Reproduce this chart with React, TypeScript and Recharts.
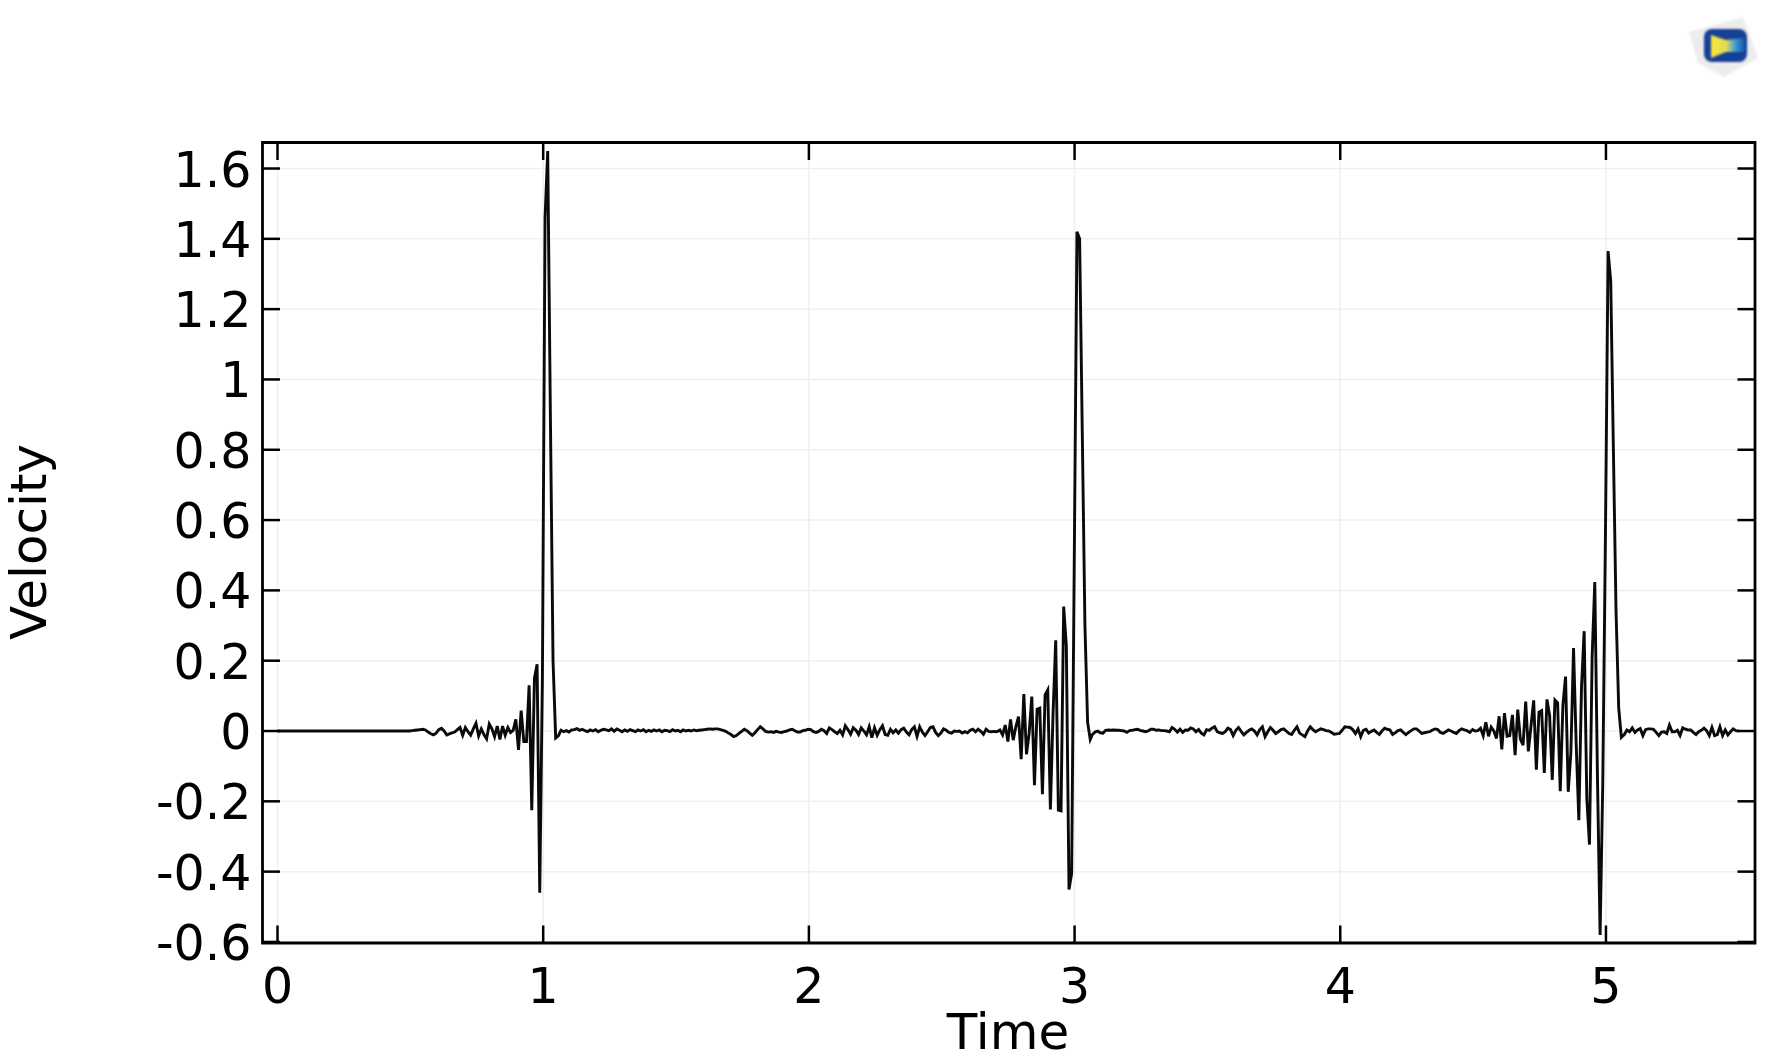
import { LineChart, Line, XAxis, YAxis, CartesianGrid, ReferenceArea, Label } from 'recharts';

// plot frame, in page pixels
const PLOT_LEFT = 262.5;
const PLOT_RIGHT = 1755;
const PLOT_TOP = 142.5;
const PLOT_BOTTOM = 943;
const TICK_LEN = 17.5;
const FONT = '"DejaVu Sans", sans-serif';

const xDomain = [-0.0565, 5.561];
const yDomain = [-0.603, 1.674];
const xTicks = [0, 1, 2, 3, 4, 5];
const yTicks = [-0.6, -0.4, -0.2, 0, 0.2, 0.4, 0.6, 0.8, 1, 1.2, 1.4, 1.6];

// samples are 0.01 apart, each list says where it starts
const STEP = 0.01;

const quietTimes = [0, 0.25, 0.487];
const quietValues = [0, 0, 0];

const firstPulseStart = 0.497;
const firstPulse = [
  0, 0.001, 0.002, 0.003, 0.004, 0.005, 0.003, -0.003, -0.008, -0.011,
  -0.006, 0.004, 0.008, 0, -0.011, -0.008, -0.005, -0.003, 0.004, 0.01,
  -0.012, 0.01, -0.002, -0.012, 0.006, 0.022, -0.014, 0.006, -0.01, -0.022,
  0.02, 0.006, -0.016, 0.014, -0.024, 0.014, -0.012, 0.01, -0.004, 0.002,
  0.033, -0.054, 0.058, -0.03, -0.03, 0.13, -0.225, 0.15, 0.19, -0.46,
  0.15, 1.46, 1.65, 0.9, 0.2, -0.02,
];

const firstQuietStart = 1.057;
const firstQuiet = [
  -0.014, 0.002, -0.002, 0.001, -0.003, 0.003, 0.004, 0.007, 0.002, 0.005,
  0.001, -0.002, 0.003, 0, 0.004, -0.002, 0.002, 0.005, 0.003, 0.001,
  0.006, -0.001, 0.006, 0.002, -0.002, 0.003, -0.001, 0.004, 0.001, -0.002,
  0.003, 0, 0.004, -0.002, 0.002, -0.001, 0.003, 0, 0.003, -0.002,
  0.002, 0.001, -0.002, 0.004, 0, 0.002, -0.002, 0.003, 0, 0.002,
  0, 0.003, 0.001, 0.002, 0.003, 0.004, 0.005, 0.006, 0.005, 0.006,
  0.006, 0.004, 0.002, -0.001, -0.006, -0.01, -0.016, -0.013, -0.007, -0.001,
  0.005, 0.001, -0.006, -0.012, -0.005, 0.004, 0.012, 0.006, -0.001, -0.003,
  -0.002, -0.004, -0.001, -0.003, -0.004, -0.002, 0, 0.003, 0.005, 0.001,
  -0.003, -0.003, 0.001, 0.002, 0.005, 0.004, -0.002, -0.004, -0.001, 0.005,
  0.001, -0.007, 0.009, 0.004, -0.002, -0.007, 0.002, -0.011, 0.015, 0.004,
  -0.009, 0.009, 0.002, -0.01, 0.009, 0, -0.011, 0.012, -0.019, 0.009,
  -0.012, 0.004, 0.015, -0.01, -0.012, 0.005, -0.005, 0.003, -0.006, 0.004,
  0.008, -0.003, -0.011, 0.004, 0.012, -0.015, 0.012, -0.003, -0.013, -0.002,
  0.01, 0.012, -0.004, -0.013, -0.006, 0.006, 0.002, -0.004, -0.006, 0,
  -0.001, 0, -0.006, -0.002, -0.005, 0.002, 0.005, -0.002, 0.005, -0.001,
  -0.009, 0.005, -0.001, -0.002, -0.001, -0.002,
];

const secondPulseStart = 2.719;
const secondPulse = [
  0.003, -0.011, 0.017, -0.03, 0.033, -0.026, 0.012, 0.041, -0.08, 0.105,
  -0.066, -0.007, 0.098, -0.154, 0.062, 0.065, -0.18, 0.103, 0.117, -0.223,
  0.05, 0.258, -0.225, -0.227, 0.354, 0.242, -0.451, -0.405, 0.5, 1.42,
  1.4, 0.85, 0.3, 0.025, -0.024,
];

const secondQuietStart = 3.067;
const secondQuiet = [
  -0.01, -0.003, 0, -0.005, -0.006, 0.002, 0.003, 0.002, 0.003, 0.002,
  0.002, 0.001, 0, -0.004, 0.001, 0.002, 0.004, 0.005, 0.002, 0,
  -0.002, 0, 0.005, 0.005, 0.002, 0.003, 0.001, 0.001, 0, -0.002,
  0.01, 0.005, -0.003, 0.005, -0.004, 0.003, 0.002, 0.009, 0.006, -0.002,
  0.004, -0.006, -0.011, 0.004, 0.002, 0.008, 0.012, -0.002, -0.005, -0.007,
  -0.002, 0.008, 0.004, -0.013, 0.002, 0.01, -0.001, -0.011, -0.004, 0.002,
  0.006, 0, -0.011, 0.004, 0.012, -0.016, -0.002, 0.01, 0.002, -0.007,
  -0.002, 0.004, 0.006, 0, -0.007, -0.01, 0.002, 0.012, -0.006, -0.011,
  -0.016, 0, 0.012, 0.004, -0.002, 0.002, 0.006, 0.004, 0.001, 0,
  -0.004, -0.009, -0.008, -0.007, 0.002, 0.012, 0.011, 0.01, 0.004, -0.007,
  0.006, -0.016, 0.002, 0.005, -0.006, -0.001, 0.003, -0.004, -0.01, 0,
  0.008, 0.005, 0.003, -0.01, -0.005, 0.001, 0.003, -0.004, -0.01, -0.004,
  0.001, 0.006, 0.006, 0, -0.007, -0.005, -0.003, -0.002, 0.003, 0.006,
  0.004, -0.004, -0.007, -0.002, 0.003, 0, -0.004, -0.007, 0.001, 0.006,
  0.003, 0.001,
];

const thirdPulseStart = 4.488;
const thirdPulse = [
  -0.004, 0.004, 0, 0.001, 0.008, -0.013, 0.025, -0.015, 0.011, 0,
  -0.021, 0.042, -0.052, 0.051, -0.015, -0.013, 0.046, -0.069, 0.061, -0.023,
  -0.04, 0.084, -0.058, 0.015, 0.087, -0.11, 0.054, 0.058, -0.119, 0.09,
  0.044, -0.139, 0.088, 0.08, -0.171, 0.073, 0.155, -0.173, -0.062, 0.236,
  -0.038, -0.254, 0.126, 0.284, -0.192, -0.323, 0.212, 0.424, -0.129, -0.58,
  -0.15, 0.55, 1.365, 1.28, 0.8, 0.34, 0.066, -0.018,
];

const lastQuietStart = 5.069;
const lastQuiet = [
  -0.01, 0.003, -0.002, 0.009, -0.004, 0.003, 0.007, -0.013, 0.004, 0.006,
  0.006, 0.005, -0.004, -0.013, -0.003, -0.002, -0.007, 0.017, -0.002, -0.002,
  0.002, -0.013, 0.009, 0.005, 0.003, 0.003, -0.004, -0.01, -0.002, 0.002,
  0.008, 0.001, -0.013, 0.01, -0.013, -0.01, 0.012, -0.013, 0.003, -0.011,
  -0.002, 0.006, 0.001, 0,
];

const run = (start: number, values: number[]) =>
  values.map((v, i) => ({ t: start + i * STEP, v }));

const data = [
  ...quietTimes.map((t, i) => ({ t, v: quietValues[i] })),
  ...run(firstPulseStart, firstPulse),
  ...run(firstQuietStart, firstQuiet),
  ...run(secondPulseStart, secondPulse),
  ...run(secondQuietStart, secondQuiet),
  ...run(thirdPulseStart, thirdPulse),
  ...run(lastQuietStart, lastQuiet),
];

// ticks point inwards on all four sides, so each tick draws its own pair of marks
const renderXTick = (props: any) => {
  const { x, payload } = props;
  return (
    <g>
      <line x1={x} x2={x} y1={PLOT_BOTTOM} y2={PLOT_BOTTOM - TICK_LEN} stroke="#000" strokeWidth={2.5} />
      <line x1={x} x2={x} y1={PLOT_TOP} y2={PLOT_TOP + TICK_LEN} stroke="#000" strokeWidth={2.5} />
      <text x={x} y={1003} textAnchor="middle" fontSize={49} fontFamily={FONT} fill="#000">
        {String(payload.value)}
      </text>
    </g>
  );
};

const renderYTick = (props: any) => {
  const { y, payload } = props;
  return (
    <g>
      <line x1={PLOT_LEFT} x2={PLOT_LEFT + TICK_LEN} y1={y} y2={y} stroke="#000" strokeWidth={2.5} />
      <line x1={PLOT_RIGHT} x2={PLOT_RIGHT - TICK_LEN} y1={y} y2={y} stroke="#000" strokeWidth={2.5} />
      <text x={PLOT_LEFT - 11} y={y + 18} textAnchor="end" fontSize={49} fontFamily={FONT} fill="#000">
        {String(payload.value)}
      </text>
    </g>
  );
};

const TimeTitle = () => (
  <text x={1008} y={1049} textAnchor="middle" fontSize={50} fontFamily={FONT} fill="#000">
    Time
  </text>
);

const VelocityTitle = () => (
  <text x={46} y={542} transform="rotate(-90 46 542)" textAnchor="middle" fontSize={50} fontFamily={FONT} fill="#000">
    Velocity
  </text>
);

// small raster badge in the top right corner of the export
const Badge = () => (
  <svg width={90} height={80} style={{ position: 'absolute', left: 1682, top: 8 }} viewBox="1682 8 90 80">
    <defs>
      <linearGradient id="badgeFill" x1="0" y1="0.5" x2="1" y2="0.5">
        <stop offset="0" stopColor="#f7e73c" />
        <stop offset="0.45" stopColor="#e3dc52" />
        <stop offset="0.7" stopColor="#3f9fd8" />
        <stop offset="1" stopColor="#1a4fa8" />
      </linearGradient>
      <filter id="badgeSoft">
        <feGaussianBlur stdDeviation="1.1" />
      </filter>
    </defs>
    <polygon points="1689,32 1743,17 1758,58 1724,77 1698,63" fill="#ececec" filter="url(#badgeSoft)" />
    <rect x={1704} y={29} width={43} height={33} rx={8} fill="#173f96" filter="url(#badgeSoft)" />
    <polygon points="1711,35 1726,40 1745,38 1745,52 1726,52 1711,58" fill="url(#badgeFill)" filter="url(#badgeSoft)" />
  </svg>
);

export default function App() {
  return (
    <div style={{ position: 'absolute', left: 0, top: 0, width: 1772, height: 1063, background: '#fff' }}>
      <LineChart
        width={1772}
        height={1063}
        data={data}
        margin={{ top: PLOT_TOP, right: 1772 - PLOT_RIGHT, bottom: 0, left: 0 }}
      >
        <CartesianGrid stroke="#efefef" strokeWidth={1.5} />
        <XAxis
          dataKey="t"
          type="number"
          domain={xDomain}
          ticks={xTicks}
          interval={0}
          allowDataOverflow
          axisLine={false}
          tickLine={false}
          tick={renderXTick}
          height={1063 - PLOT_BOTTOM}
        >
          <Label content={<TimeTitle />} />
        </XAxis>
        <YAxis
          type="number"
          domain={yDomain}
          ticks={yTicks}
          interval={0}
          allowDataOverflow
          axisLine={false}
          tickLine={false}
          tick={renderYTick}
          width={PLOT_LEFT}
        >
          <Label content={<VelocityTitle />} />
        </YAxis>
        <ReferenceArea
          x1={xDomain[0]}
          x2={xDomain[1]}
          y1={yDomain[0]}
          y2={yDomain[1]}
          fill="none"
          stroke="#000"
          strokeWidth={2.8}
        />
        <Line dataKey="v" type="linear" stroke="#0a0a0a" strokeWidth={2.9} dot={false} isAnimationActive={false} />
      </LineChart>
      <Badge />
    </div>
  );
}
